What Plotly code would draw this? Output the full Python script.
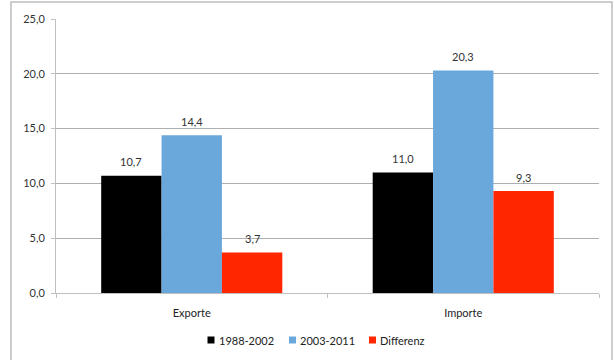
import plotly.graph_objects as go

categories = ["Exporte", "Importe"]
series_names = ["1988-2002", "2003-2011", "Differenz"]
values_1988_2002 = [10.7, 11.0]
values_2003_2011 = [14.4, 20.3]
values_differenz = [3.7, 9.3]
colors = ["#000000", "#6AA8DC", "#FF2600"]

FONT = "Lato"

# plot area in pixels: x 56..599, y 19..293
PX_L, PX_R, PX_T, PX_B = 56, 599, 19, 293
BAR_PX = (PX_R - PX_L) / len(categories) / 4.5  # width of one bar in pixels


def px_to_paper_x(px):
    return (px - PX_L) / (PX_R - PX_L)


def px_to_paper_y(py):
    return (PX_B - py) / (PX_B - PX_T)


fig = go.Figure()
annotations = []
all_series = [values_1988_2002, values_2003_2011, values_differenz]
for i, (name, vals, col) in enumerate(zip(series_names, all_series, colors)):
    fig.add_trace(go.Bar(
        x=categories, y=vals, name=name,
        marker=dict(color=col, line=dict(width=0)),
    ))
    # value labels above each bar
    for cat, v in zip(categories, vals):
        annotations.append(dict(
            x=cat, y=v, xref="x", yref="y",
            text=f"{v:.1f}".replace(".", ","),
            showarrow=False, xanchor="center", yanchor="middle",
            xshift=(i - 1) * BAR_PX, yshift=14,
            font=dict(family=FONT, size=11, color="#333333")))

# legend drawn as small squares with labels beside them
legend_square_x = [207.5, 289, 369]
legend_text_x = [217, 298, 378]
legend_y = 340
shapes = [dict(type="rect", xref="paper", yref="paper",
               x0=px_to_paper_x(11), x1=px_to_paper_x(612),
               y0=px_to_paper_y(370), y1=px_to_paper_y(2),
               line=dict(color="#BDBDBD", width=1.5),
               fillcolor="rgba(0,0,0,0)", layer="below")]
for name, col, sx, tx in zip(series_names, colors, legend_square_x, legend_text_x):
    shapes.append(dict(type="rect", xref="paper", yref="paper",
                       x0=px_to_paper_x(sx), x1=px_to_paper_x(sx + 7),
                       y0=px_to_paper_y(legend_y + 3.5),
                       y1=px_to_paper_y(legend_y - 3.5),
                       line=dict(width=0), fillcolor=col))
    annotations.append(dict(xref="paper", yref="paper",
                            x=px_to_paper_x(tx), y=px_to_paper_y(legend_y),
                            xanchor="left", yanchor="middle", showarrow=False,
                            text=name,
                            font=dict(family=FONT, size=11, color="#222222")))

fig.update_layout(
    width=614, height=360,
    margin=dict(l=PX_L, r=614 - PX_R, t=PX_T, b=360 - PX_B, autoexpand=False),
    paper_bgcolor="white", plot_bgcolor="white",
    barmode="group", bargap=0.333, bargroupgap=0,
    separators=",.",
    font=dict(family=FONT, size=11, color="#333333"),
    showlegend=False,
    yaxis=dict(range=[0, 25], dtick=5, tickformat=".1f",
               showgrid=True, gridcolor="#AFAFAF", gridwidth=1,
               showline=True, linecolor="#BFBFBF", linewidth=1,
               ticks="outside", ticklen=4, tickcolor="#BFBFBF",
               ticklabelstandoff=4,
               zeroline=False, tickfont=dict(family=FONT, size=11, color="#333333")),
    xaxis=dict(showline=True, linecolor="#BFBFBF", linewidth=1,
               ticks="outside", ticklen=4, tickcolor="#BFBFBF",
               tickson="boundaries", showgrid=False,
               ticklabelstandoff=10,
               tickfont=dict(family=FONT, size=11, color="#222222")),
    shapes=shapes,
    annotations=annotations,
)

fig.write_html("out.html")
